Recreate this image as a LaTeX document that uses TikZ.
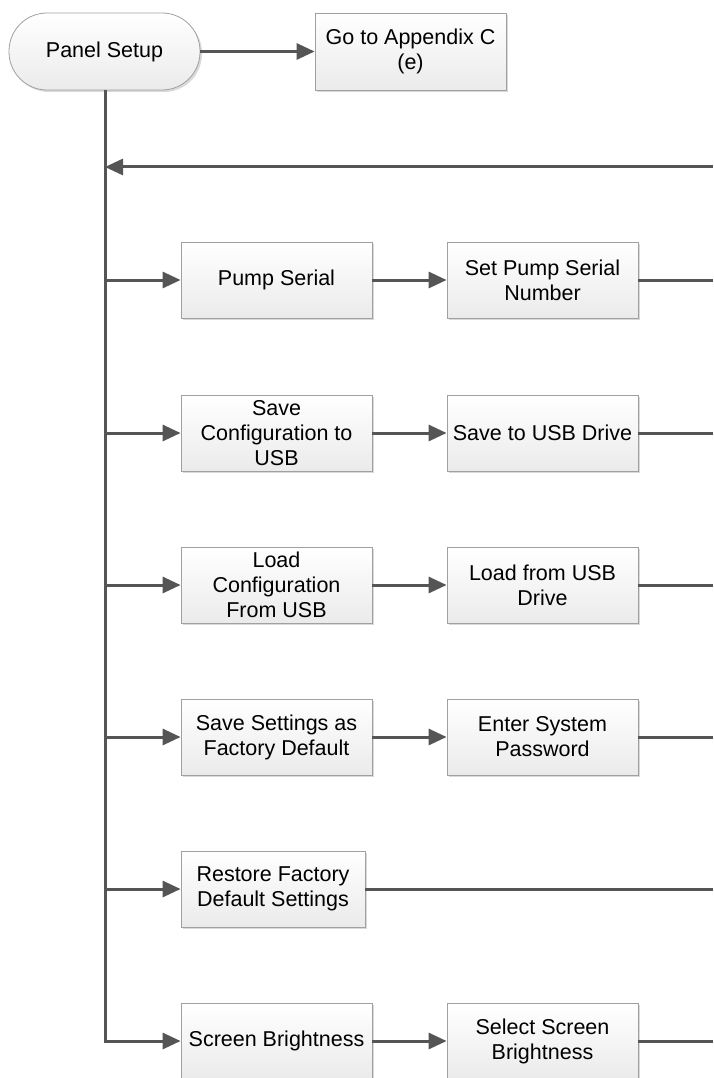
\documentclass[tikz,border=0pt]{standalone}
\usepackage{fontspec}
\setmainfont{Liberation Sans}
\usetikzlibrary{arrows.meta,shadows,calc}
\definecolor{ln}{HTML}{555555}
\definecolor{bd}{HTML}{A0A0A0}
\begin{document}
\begin{tikzpicture}[x=1pt,y=-1pt,
  box/.style={draw=bd,line width=0.8pt,top color=white,bottom color=black!8,
    minimum width=191pt,minimum height=76pt,inner sep=0pt,align=center,
    font=\fontsize{21.5}{25}\selectfont,
    drop shadow={shadow xshift=2pt,shadow yshift=-2pt,fill=black,opacity=0.15}},
  term/.style={box,rounded corners=38pt,minimum height=77pt},
  conn/.style={draw=ln,line width=3pt},
  arr/.style={conn,-{Triangle[length=18pt,width=16pt]}}]
\useasboundingbox (0,0) rectangle (713,1078);

\node[term] (ps) at (104.5,51.5) {Panel Setup};
\node[box,minimum height=77pt] (app) at (410.5,51.5) {Go to Appendix C\\(e)};

\node[box] (l1) at (276.5,280) {Pump Serial};
\node[box] (r1) at (542.5,280) {Set Pump Serial\\Number};
\node[box] (l2) at (276.5,433) {Save\\Configuration to\\USB};
\node[box] (r2) at (542.5,433) {Save to USB Drive};
\node[box] (l3) at (276.5,585) {Load\\Configuration\\From USB};
\node[box] (r3) at (542.5,585) {Load from USB\\Drive};
\node[box] (l4) at (276.5,737) {Save Settings as\\Factory Default};
\node[box] (r4) at (542.5,737) {Enter System\\Password};
\node[box,minimum width=184pt] (l5) at (273,889) {Restore Factory\\Default Settings};
\node[box] (l6) at (276.5,1041) {Screen Brightness};
\node[box] (r6) at (542.5,1041) {Select Screen\\Brightness};

\coordinate (edge) at (713,167);
\coordinate (tx) at (105,0);

\draw[arr] (ps.east) -- (app.west);
\draw[arr] (edge) -- (tx |- edge);
\draw[arr] (tx |- ps.south) |- (l6.west);
\foreach \i in {1,2,3,4,5}{
  \draw[arr] (tx |- l\i.west) -- (l\i.west);
}
\foreach \i in {1,2,3,4,6}{
  \draw[arr] (l\i.east) -- (r\i.west);
  \draw[conn] (r\i.east) -- (edge |- r\i.east);
}
\draw[conn] (l5.east) -- (edge |- l5.east);
\end{tikzpicture}
\end{document}
